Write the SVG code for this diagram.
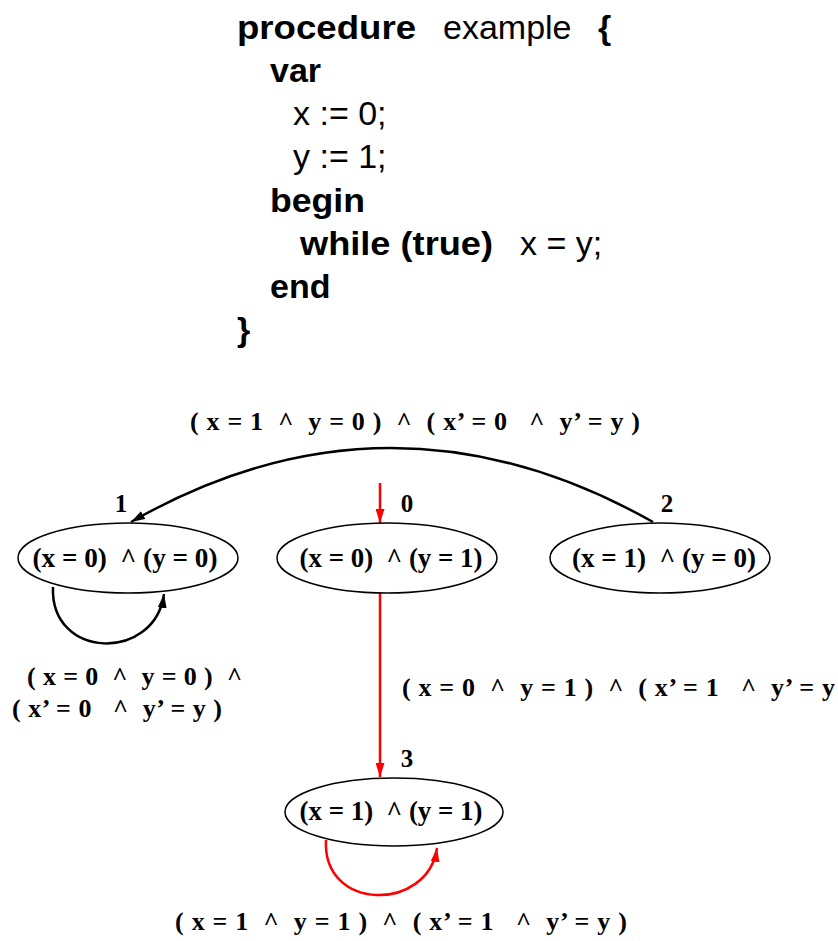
<svg xmlns="http://www.w3.org/2000/svg" width="838" height="941" viewBox="0 0 838 941">
<defs>
<style>
.code{font-family:"Liberation Sans",Arial,sans-serif;font-size:34px;fill:#000}
.b{font-weight:bold}
.lab{font-family:"Liberation Serif","Times New Roman",serif;font-weight:bold;font-size:26px;fill:#000}
.num{font-family:"Liberation Serif","Times New Roman",serif;font-weight:bold;font-size:25px;fill:#000}
.nt{font-family:"Liberation Serif","Times New Roman",serif;font-weight:bold;font-size:27px;fill:#000}
.node{fill:#fff;stroke:#000;stroke-width:1.5}
.e{fill:none;stroke:#000;stroke-width:2.5}
.r{fill:none;stroke:#f00;stroke-width:2.5}
</style>
<marker id="ab" viewBox="0 0 14 9" refX="14" refY="4.5" markerWidth="14" markerHeight="9" markerUnits="userSpaceOnUse" orient="auto"><path d="M0,0 L14,4.5 L0,9 z" fill="#000"/></marker>
<marker id="ar" viewBox="0 0 14 9" refX="14" refY="4.5" markerWidth="14" markerHeight="9" markerUnits="userSpaceOnUse" orient="auto"><path d="M0,0 L14,4.5 L0,9 z" fill="#f00"/></marker>
</defs>
<rect width="838" height="941" fill="#fff"/>
<g id="code">
<text class="code b" x="237" y="39" textLength="179" lengthAdjust="spacingAndGlyphs">procedure</text>
<text class="code" x="443" y="39">example</text>
<text class="code b" x="598" y="39">{</text>
<text class="code b" x="270" y="82">var</text>
<text class="code" x="293" y="125">x := 0;</text>
<text class="code" x="293" y="168">y := 1;</text>
<text class="code b" x="270" y="212" textLength="95" lengthAdjust="spacingAndGlyphs">begin</text>
<text class="code b" x="300" y="255" textLength="193" lengthAdjust="spacingAndGlyphs">while (true)</text>
<text class="code" x="520" y="255">x = y;</text>
<text class="code b" x="270" y="298">end</text>
<text class="code b" x="237" y="341">}</text>
</g>
<g id="connectors">
<path class="e" d="M653,522 Q390,374 131,522" marker-end="url(#ab)"/>
<path class="e" d="M53,587 C50,660 155,662 164,594" marker-end="url(#ab)"/>
<path class="r" d="M380,483 L380,523" marker-end="url(#ar)"/>
<path class="r" d="M380,593 L380,777" marker-end="url(#ar)"/>
<path class="r" d="M326,840 C322,912 428,912 437,848" marker-end="url(#ar)"/>
</g>
<g id="node1">
<ellipse class="node" cx="128" cy="558" rx="110" ry="35"/>
<text class="nt" x="125" y="567" text-anchor="middle" textLength="185" lengthAdjust="spacingAndGlyphs" xml:space="preserve">(x = 0)  ^ (y = 0)</text>
<text class="num" x="121" y="512" text-anchor="middle">1</text>
</g>
<g id="node0">
<ellipse class="node" cx="387" cy="558" rx="110" ry="35"/>
<text class="nt" x="391" y="567" text-anchor="middle" textLength="183" lengthAdjust="spacingAndGlyphs" xml:space="preserve">(x = 0)  ^ (y = 1)</text>
<text class="num" x="407" y="512" text-anchor="middle">0</text>
</g>
<g id="node2">
<ellipse class="node" cx="660" cy="558" rx="110" ry="35"/>
<text class="nt" x="664" y="567" text-anchor="middle" textLength="184" lengthAdjust="spacingAndGlyphs" xml:space="preserve">(x = 1)  ^ (y = 0)</text>
<text class="num" x="667" y="512" text-anchor="middle">2</text>
</g>
<g id="node3">
<ellipse class="node" cx="394" cy="812" rx="109" ry="34"/>
<text class="nt" x="391" y="820" text-anchor="middle" textLength="183" lengthAdjust="spacingAndGlyphs" xml:space="preserve">(x = 1)  ^ (y = 1)</text>
<text class="num" x="407" y="767" text-anchor="middle">3</text>
</g>
<g id="labels">
<text class="lab" x="190" y="430" textLength="450" lengthAdjust="spacing" xml:space="preserve">( x = 1  ^  y = 0 )  ^  ( x’ = 0   ^  y’ = y )</text>
<text class="lab" x="27" y="685" textLength="215" lengthAdjust="spacing" xml:space="preserve">( x = 0  ^  y = 0 )  ^</text>
<text class="lab" x="12" y="717" textLength="210" lengthAdjust="spacing" xml:space="preserve">( x’ = 0   ^  y’ = y )</text>
<text class="lab" x="402" y="696" textLength="433" lengthAdjust="spacing" xml:space="preserve">( x = 0  ^  y = 1 )  ^  ( x’ = 1   ^  y’ = y</text>
<text class="lab" x="175" y="930" textLength="452" lengthAdjust="spacing" xml:space="preserve">( x = 1  ^  y = 1 )  ^  ( x’ = 1   ^  y’ = y )</text>
</g>
</svg>
